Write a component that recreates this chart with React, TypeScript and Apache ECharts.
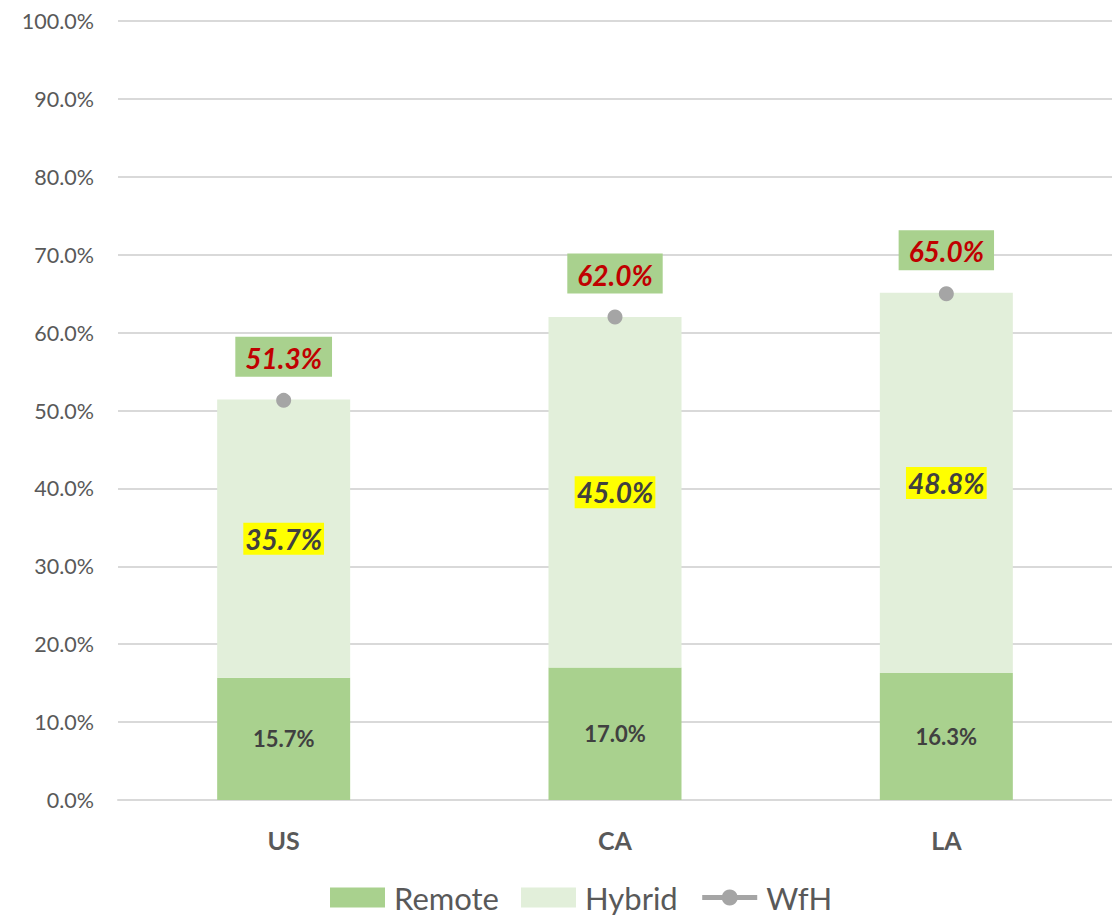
import React, { useEffect, useRef } from "react";
import * as echarts from "echarts";

const categories = ["US", "CA", "LA"];
const remote = [15.7, 17.0, 16.3];
const hybrid = [35.7, 45.0, 48.8];
const wfh = [51.3, 62.0, 65.0];
const yTicks = { min: 0, max: 100, interval: 10 };

const FONT = "Lato, 'Liberation Sans', Arial, sans-serif";
const pct = (v: number) => v.toFixed(1) + "%";

export default function App() {
  const ref = useRef<HTMLDivElement>(null);

  useEffect(() => {
    if (!ref.current) return;
    const chart = echarts.init(ref.current, undefined, { renderer: "svg" });
    chart.setOption({
      animation: false,
      backgroundColor: "#ffffff",
      grid: { left: 118, right: 0, top: 21, bottom: 118, containLabel: false },
      xAxis: {
        type: "category",
        data: categories,
        axisLine: { show: true, lineStyle: { color: "#D9D9D9", width: 2 } },
        axisTick: { show: false },
        axisLabel: {
          margin: 27,
          fontFamily: FONT,
          fontSize: 25,
          fontWeight: "bold",
          color: "#595959",
        },
      },
      yAxis: {
        type: "value",
        min: yTicks.min,
        max: yTicks.max,
        interval: yTicks.interval,
        axisLine: { show: false },
        axisTick: { show: false },
        splitLine: { lineStyle: { color: "#D9D9D9", width: 2 } },
        axisLabel: {
          margin: 24,
          fontFamily: FONT,
          fontSize: 21.5,
          color: "#595959",
          formatter: (v: number) => pct(v),
        },
      },
      legend: {
        bottom: 0,
        left: 325,
        itemWidth: 55,
        itemHeight: 20,
        itemGap: 22,
        textStyle: {
          fontFamily: FONT,
          fontSize: 31,
          lineHeight: 26,
          color: "#595959",
          padding: [0, 0, 0, 4],
        },
        data: [
          { name: "Remote", icon: "rect" },
          { name: "Hybrid", icon: "rect" },
          {
            name: "WfH",
            lineStyle: { width: 5, color: "#A5A5A5", opacity: 1 },
          },
        ],
      },
      series: [
        {
          name: "Remote",
          type: "bar",
          stack: "total",
          barWidth: 133,
          data: remote,
          itemStyle: { color: "#A9D18E" },
          label: {
            show: true,
            position: "inside",
            formatter: (p: any) => pct(p.value),
            fontFamily: FONT,
            fontSize: 22,
            fontWeight: "bold",
            color: "#404040",
          },
        },
        {
          name: "Hybrid",
          type: "bar",
          stack: "total",
          barWidth: 133,
          data: hybrid,
          itemStyle: { color: "#E2EFDA" },
          label: {
            show: true,
            position: "inside",
            formatter: (p: any) => pct(p.value),
            fontFamily: FONT,
            fontSize: 28,
            fontWeight: "bold",
            fontStyle: "italic",
            color: "#404040",
            backgroundColor: "#FFFF00",
            padding: [3, 2, 1, 2],
          },
        },
        {
          name: "WfH",
          type: "line",
          data: wfh,
          symbol: "circle",
          symbolSize: 15,
          itemStyle: { color: "#A5A5A5" },
          lineStyle: { width: 0, opacity: 0 },
          z: 5,
          label: {
            show: true,
            position: "top",
            distance: 16,
            formatter: (p: any) => pct(p.value),
            fontFamily: FONT,
            fontSize: 28,
            fontWeight: "bold",
            fontStyle: "italic",
            color: "#C00000",
            backgroundColor: "#A9D18E",
            padding: [7, 10, 5, 10],
          },
        },
      ],
    });
    return () => chart.dispose();
  }, []);

  return (
    <div
      ref={ref}
      style={{ position: "fixed", left: 0, top: 0, width: 1112, height: 918 }}
    />
  );
}
